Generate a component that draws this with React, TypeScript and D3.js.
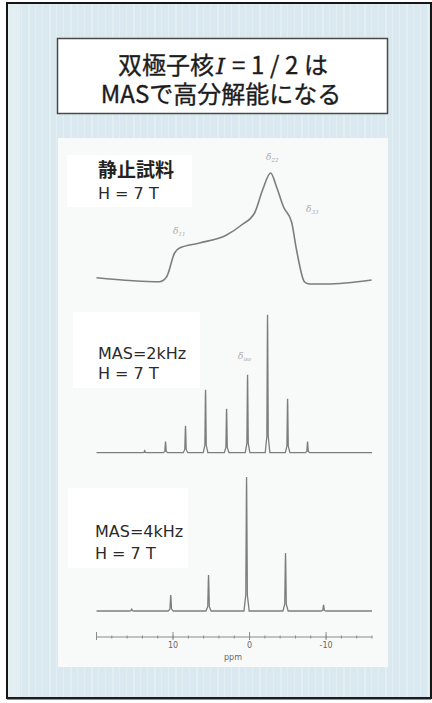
import React from "react";
import * as d3 from "d3";

// ---- data (ppm, relative intensity) ----
const staticPpm = [20.0, 11.76, 10.85, 9.8, 9.15, 6.54, 3.0, 1.05, -0.65, -1.7, -2.75, -3.53, -4.44, -5.49, -6.14, -7.19, -7.84, -10.07, -15.95];
const staticInt = [6.3, 2.3, 7, 31, 36, 41, 49, 59, 71, 94, 111, 97, 77, 62, 34, 2, 0, 0, 4];

const mas2Ppm = [13.7, 10.98, 8.37, 5.75, 3.0, 0.26, -2.35, -4.97, -7.58];
const mas2Int = [2, 11, 27, 63, 44, 78, 138, 54, 11];

const mas4Ppm = [15.4, 10.3, 5.36, 0.39, -4.7, -9.67];
const mas4Int = [2, 16, 36, 134, 58, 6];

const majorTicks = [20, 10, 0, -10];
const tickLabels = ["", "10", "0", "-10"];
const minorTicks = d3.range(20, -16.1, -2);

const titleLine1a = "双極子核";
const titleLine1b = "I";
const titleLine1c = "=1/2は";
const titleLine2 = "MASで高分解能になる";

const W = 432;
const H = 703;

const x = d3.scaleLinear().domain([20, -16]).range([96.5, 372]);
const yStatic = d3.scaleLinear().domain([0, 111]).range([284, 173]);
const y2 = d3.scaleLinear().domain([0, 138]).range([452.7, 314.7]);
const y4 = d3.scaleLinear().domain([0, 134]).range([611, 477]);

const lineGen = d3.line<[number, number]>().x((d) => d[0]).y((d) => d[1]);

function peakPath(ppm: number[], ints: number[], y: d3.ScaleLinear<number, number>, hw: number) {
  const pts: [number, number][] = [];
  const [d0, d1] = x.domain();
  pts.push([x(d0), y(0)]);
  ppm.forEach((p, i) => {
    const cx = x(p);
    const h = ints[i];
    pts.push([cx - hw, y(0)]);
    pts.push([cx - hw * 0.3, y(h * 0.12)]);
    pts.push([cx - 0.15, y(h * 0.9)]);
    pts.push([cx, y(h)]);
    pts.push([cx + 0.15, y(h * 0.9)]);
    pts.push([cx + hw * 0.3, y(h * 0.12)]);
    pts.push([cx + hw, y(0)]);
  });
  pts.push([x(d1), y(0)]);
  return lineGen(pts) || "";
}

const staticLine = d3
  .line<number>()
  .x((_, i) => x(staticPpm[i]))
  .y((d) => yStatic(d))
  .curve(d3.curveMonotoneX);

const stripes = d3.range(0, W, 7);

export default function App() {
  const lineColor = "#7d7d7d";
  const labelFont = "'DejaVu Sans', Verdana, sans-serif";
  const cjk = "'Noto Sans CJK JP', sans-serif";
  const titleStyle = { stroke: "#1c1c1c", strokeWidth: 0.35 } as React.CSSProperties;
  return (
    <div style={{ position: "absolute", left: 0, top: 0, width: W, height: H, background: "#fff" }}>
      <svg width={W} height={H} style={{ display: "block" }}>
        <rect x={0} y={0} width={W} height={H} fill="#ffffff" />
        {/* outer frame background */}
        <rect x={7} y={3} width={424} height={695} fill="#d9e9ef" />
        {stripes.map((s, i) => (
          <rect key={i} x={7 + s} y={3} width={i % 3 === 0 ? 2 : 1} height={695} fill="#e9f3f5" opacity={0.5} />
        ))}
        <rect x={8} y={4} width={12} height={693} fill="#e8f1f4" opacity={0.6} />
        <rect x={7} y={3} width={424} height={695} fill="none" stroke="#151515" strokeWidth={2} />
        <line x1={7} x2={431} y1={698.5} y2={698.5} stroke="#202020" strokeWidth={2} />

        {/* title box */}
        <rect x={57.5} y={38.5} width={330} height={75} fill="#ffffff" stroke="#4a4a4a" strokeWidth={1.5} />
        <text x={118} y={74} fontFamily={cjk} fontSize={24} fill="#1c1c1c" style={titleStyle}>
          {titleLine1a}
        </text>
        <text x={216} y={74} fontFamily="'DejaVu Serif', 'Liberation Serif', serif" fontStyle="italic" fontSize={23} fill="#1c1c1c" style={titleStyle}>
          {titleLine1b}
        </text>
        <text x={232} y={74} fontFamily={cjk} fontSize={24} fill="#1c1c1c" textLength={96} lengthAdjust="spacing" style={titleStyle}>
          {titleLine1c}
        </text>
        <text x={221} y={103} textAnchor="middle" fontFamily={cjk} fontSize={24} fill="#1c1c1c" style={titleStyle}>
          {titleLine2}
        </text>

        {/* white panel */}
        <rect x={58} y={138} width={330} height={529} fill="#f8fafa" />
        <rect x={67} y={155} width={125} height={52} fill="#ffffff" />
        <rect x={73} y={312} width={127} height={76} fill="#ffffff" />
        <rect x={68} y={488} width={120} height={80} fill="#ffffff" />

        {/* static spectrum */}
        <path d={staticLine(staticInt) || ""} fill="none" stroke={lineColor} strokeWidth={1.6} />
        {/* 2 kHz */}
        <path d={peakPath(mas2Ppm, mas2Int, y2, 2.3)} fill="none" stroke={lineColor} strokeWidth={1.3} />
        {/* 4 kHz */}
        <path d={peakPath(mas4Ppm, mas4Int, y4, 2.6)} fill="none" stroke={lineColor} strokeWidth={1.3} />

        {/* delta annotations */}
        <g fontFamily="'DejaVu Serif', serif" fill="#a9a9a9" fontStyle="italic" fontSize={9}>
          <text x={173} y={234}>δ<tspan fontSize={5.5} dy={2}>11</tspan></text>
          <text x={266} y={160}>δ<tspan fontSize={5.5} dy={2}>22</tspan></text>
          <text x={306} y={212}>δ<tspan fontSize={5.5} dy={2}>33</tspan></text>
          <text x={238} y={359}>δ<tspan fontSize={5.5} dy={2}>iso</tspan></text>
        </g>

        {/* labels */}
        <text x={98} y={177} fontFamily={cjk} fontWeight="bold" fontSize={19} fill="#222">静止試料</text>
        <text x={98} y={199} fontFamily={labelFont} fontSize={16} fill="#2a2a2a">H = 7 T</text>
        <text x={98} y={358.5} fontFamily={labelFont} fontSize={16} fill="#2a2a2a">MAS=2kHz</text>
        <text x={98} y={378.5} fontFamily={labelFont} fontSize={16} fill="#2a2a2a">H = 7 T</text>
        <text x={95} y={537} fontFamily={labelFont} fontSize={16} fill="#2a2a2a">MAS=4kHz</text>
        <text x={95} y={558.5} fontFamily={labelFont} fontSize={16} fill="#2a2a2a">H = 7 T</text>

        {/* ppm axis */}
        <g stroke="#8a8a8a">
          <line x1={x(20)} x2={x(-16)} y1={637} y2={637} strokeWidth={1} />
          {minorTicks.map((t) => (
            <line key={"m" + t} x1={x(t)} x2={x(t)} y1={635.5} y2={638.5} strokeWidth={1} />
          ))}
          {majorTicks.map((t) => (
            <line key={"M" + t} x1={x(t)} x2={x(t)} y1={632} y2={640} strokeWidth={1} />
          ))}
        </g>
        <g fontFamily={labelFont} fontSize={8} fill="#666" textAnchor="middle">
          {majorTicks.map((t, i) => (
            <text key={"l" + t} x={x(t)} y={648}>{tickLabels[i]}</text>
          ))}
          <text x={233} y={660}>ppm</text>
        </g>
      </svg>
    </div>
  );
}
